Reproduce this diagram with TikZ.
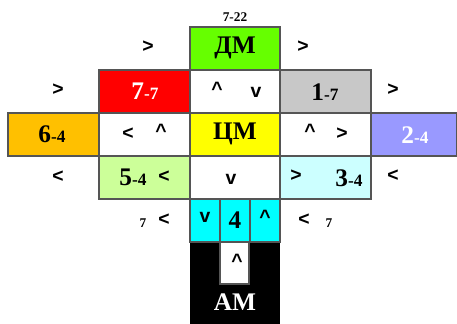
\documentclass[tikz,border=0pt]{standalone}
\usepackage{fontspec}
\setmainfont{Liberation Serif}
\newfontfamily\arrfont{Liberation Sans}
\definecolor{cgreen}{HTML}{66FF00}
\definecolor{cred}{HTML}{FF0000}
\definecolor{cgrey}{HTML}{C8C8C8}
\definecolor{corange}{HTML}{FFC000}
\definecolor{clav}{HTML}{9999FF}
\definecolor{cyel}{HTML}{FFFF00}
\definecolor{clgreen}{HTML}{CCFF99}
\definecolor{clcyan}{HTML}{CCFFFF}
\definecolor{ccyan}{HTML}{00FFFF}
\definecolor{cborder}{HTML}{555555}
\newcommand{\smallpart}{\fontsize{13}{13}\selectfont}
\begin{document}
\begin{tikzpicture}[x=0.75pt,y=-0.75pt,
  cellbox/.style={draw=cborder,line width=0.9pt},
  bigtxt/.style={font=\bfseries\fontsize{19}{19}\selectfont,inner sep=0pt},
  arr/.style={font=\arrfont\bfseries\fontsize{14.5}{14.5}\selectfont,inner sep=0pt},
  smalltxt/.style={font=\bfseries\fontsize{10}{10}\selectfont,inner sep=0pt}]
\useasboundingbox (0,0) rectangle (457,324);
% cells
\fill[black] (190,242) rectangle (280,324);
\draw[cellbox,fill=cgreen] (190,27) rectangle (280,70);
\draw[cellbox,fill=cred] (99,70) rectangle (190,113);
\draw[cellbox,fill=white] (190,70) rectangle (280,113);
\draw[cellbox,fill=cgrey] (280,70) rectangle (371,113);
\draw[cellbox,fill=corange] (8,113) rectangle (99,156);
\draw[cellbox,fill=white] (99,113) rectangle (190,156);
\draw[cellbox,fill=cyel] (190,113) rectangle (280,156);
\draw[cellbox,fill=white] (280,113) rectangle (371,156);
\draw[cellbox,fill=clav] (371,113) rectangle (457,156);
\draw[cellbox,fill=clgreen] (99,156) rectangle (190,199);
\draw[cellbox,fill=white] (190,156) rectangle (280,199);
\draw[cellbox,fill=clcyan] (280,156) rectangle (371,199);
\draw[cellbox,fill=ccyan] (190,199) rectangle (220,242);
\draw[cellbox,fill=ccyan] (220,199) rectangle (250,242);
\draw[cellbox,fill=ccyan] (250,199) rectangle (280,242);
\draw[cellbox,fill=white] (220,242) rectangle (249,284);
% texts
\node[smalltxt] (t722) at (235,17) {7-22};
\node[bigtxt] (dm) at (235,48) {ДМ};
\node[bigtxt,text=white] (c77) at (145,91) {7\smallpart-7};
\node[bigtxt] (c17) at (325,92) {1\smallpart-7};
\node[bigtxt] (c64) at (52,134) {6\smallpart-4};
\node[bigtxt] (cm) at (235,134) {ЦМ};
\node[bigtxt,text=white] (c24) at (415,135) {2\smallpart-4};
\node[bigtxt] (c54) at (133,177) {5\smallpart-4};
\node[bigtxt] (c34) at (349,178) {3\smallpart-4};
\node[bigtxt] (c4) at (235,220) {4};
\node[bigtxt,text=white] (am) at (235,302) {АМ};
% arrows
\node[arr] (a1) at (148,47) {>};
\node[arr] (a2) at (303,47) {>};
\node[arr] (a3) at (58,90) {>};
\node[arr] (a4) at (217,89) {\^{}};
\node[arr] (a5) at (256,92) {v};
\node[arr] (a6) at (393,90) {>};
\node[arr] (a7) at (128,134) {<};
\node[arr] (a8) at (161,131) {\^{}};
\node[arr] (a9) at (310,131) {\^{}};
\node[arr] (a10) at (342,134) {>};
\node[arr] (a11) at (58,177) {<};
\node[arr] (a12) at (164,177) {<};
\node[arr] (a13) at (231,179) {v};
\node[arr] (a14) at (296,176) {>};
\node[arr] (a15) at (393,176) {<};
\node[arr] (a16) at (164,220) {<};
\node[arr] (a17) at (205,217) {v};
\node[arr] (a18) at (265,217) {\^{}};
\node[arr] (a19) at (304,220) {<};
\node[arr] (a20) at (237,261) {\^{}};
\node[smalltxt] (s1) at (143,223) {7};
\node[smalltxt] (s2) at (329,223) {7};
\end{tikzpicture}
\end{document}
